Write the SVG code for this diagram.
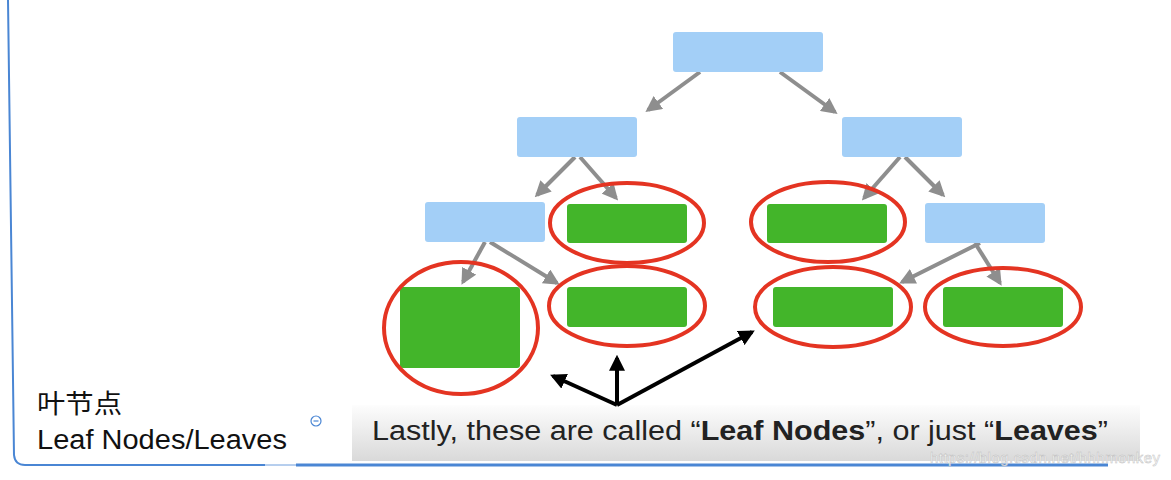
<svg xmlns="http://www.w3.org/2000/svg" width="1171" height="480" viewBox="0 0 1171 480">
<defs>
<style>
.b{fill:#a3cff7}.g{fill:#43b52a}.e{fill:none;stroke:#e43422;stroke-width:4}
.ga{stroke:#8e8e8e;stroke-width:4;fill:none;marker-end:url(#ag)}
.ka{stroke:#000;stroke-width:4;fill:none;marker-end:url(#ak)}
</style>
<marker id="ag" viewBox="0 0 10 10" refX="8" refY="5" markerWidth="4" markerHeight="4" orient="auto"><path d="M0,0L10,5L0,10z" fill="#8e8e8e"/></marker>
<marker id="ak" viewBox="0 0 10 10" refX="8" refY="5" markerWidth="4" markerHeight="4" orient="auto"><path d="M0,0L10,5L0,10z" fill="#000"/></marker>
<linearGradient id="cap" x1="0" y1="0" x2="0" y2="1"><stop offset="0" stop-color="#fdfdfd"/><stop offset="1" stop-color="#d9d9d9"/></linearGradient>
</defs>
<rect width="1171" height="480" fill="#fff"/>
<path d="M8,0 L14,455 Q15,465 25,465 L265,465" fill="none" stroke="#4a86d4" stroke-width="2"/>
<path d="M265,465 L296,465" stroke="#4a86d4" stroke-width="0.8"/>
<path d="M296,465 L1108,465" stroke="#4a86d4" stroke-width="3"/>
<rect x="352" y="405" width="788" height="56" fill="url(#cap)"/>
<g id="connectors">
<path class="ga" d="M700,72 L648,110"/><path class="ga" d="M780,72 L835,112"/>
<path class="ga" d="M575,157 L537,195"/><path class="ga" d="M580,157 L616,198"/>
<path class="ga" d="M900,157 L864,198"/><path class="ga" d="M905,157 L943,195"/>
<path class="ga" d="M485,242 L463,282"/><path class="ga" d="M490,242 L557,283"/>
<path class="ga" d="M980,243 L902,282"/><path class="ga" d="M975,243 L1000,283"/>
<path class="ka" d="M617,405 L553,376"/><path class="ka" d="M617,405 L617,358"/><path class="ka" d="M617,405 L752,332"/>
</g>
<g id="root"><rect class="b" x="673" y="32" width="150" height="40" rx="3"/></g>
<g id="l1a"><rect class="b" x="517" y="117" width="120" height="40" rx="3"/></g>
<g id="l1b"><rect class="b" x="842" y="117" width="120" height="40" rx="3"/></g>
<g id="l2a"><rect class="b" x="425" y="202" width="120" height="40" rx="3"/></g>
<g id="l2b"><rect class="g" x="567" y="204" width="120" height="39" rx="3"/><ellipse class="e" cx="627" cy="223" rx="77" ry="40"/></g>
<g id="l2c"><rect class="g" x="767" y="204" width="120" height="39" rx="3"/><ellipse class="e" cx="828" cy="222" rx="77" ry="40"/></g>
<g id="l2d"><rect class="b" x="925" y="203" width="120" height="40" rx="3"/></g>
<g id="l3a"><rect class="g" x="400" y="287" width="120" height="81" rx="3"/><ellipse class="e" cx="461" cy="328" rx="77" ry="66"/></g>
<g id="l3b"><rect class="g" x="567" y="287" width="120" height="40" rx="3"/><ellipse class="e" cx="627" cy="306" rx="78" ry="40"/></g>
<g id="l3c"><rect class="g" x="773" y="287" width="120" height="40" rx="3"/><ellipse class="e" cx="833" cy="307" rx="78" ry="40"/></g>
<g id="l3d"><rect class="g" x="943" y="287" width="120" height="40" rx="3"/><ellipse class="e" cx="1003" cy="307" rx="78" ry="39"/></g>
<g font-family="'Liberation Sans','Noto Sans CJK SC',sans-serif">
<text x="372" y="440" font-size="27" fill="#222" textLength="736" lengthAdjust="spacingAndGlyphs">Lastly, these are called “<tspan font-weight="bold">Leaf Nodes</tspan>”, or just “<tspan font-weight="bold">Leaves</tspan>”</text>
<text x="37" y="413" font-size="26" fill="#111" textLength="85" lengthAdjust="spacingAndGlyphs">叶节点</text>
<text x="37" y="449" font-size="27" fill="#111" textLength="250" lengthAdjust="spacingAndGlyphs">Leaf Nodes/Leaves</text>
<text x="930" y="463" font-size="15" fill="#fff" stroke="#bbb" stroke-width="0.5" opacity="0.9" textLength="230">https://blog.csdn.net/hhhmonkey</text>
</g>
<circle cx="316" cy="421" r="5" fill="none" stroke="#4a86d4" stroke-width="1.2"/>
<path d="M313.5,421 H318.5" stroke="#4a86d4" stroke-width="1.2"/>
</svg>
